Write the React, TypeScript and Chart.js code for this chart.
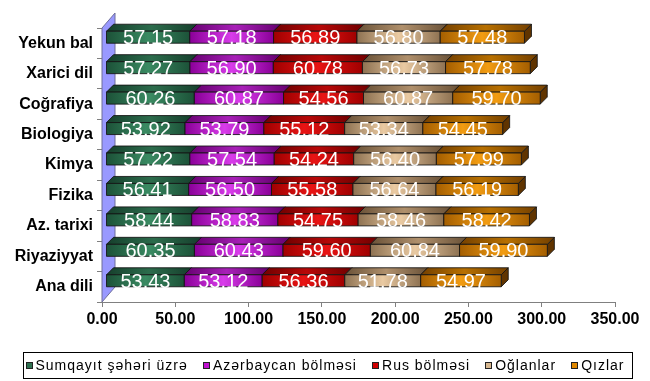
import React, { useEffect, useRef } from "react";
import { Chart, registerables } from "chart.js";

Chart.register(...registerables);

const categories = ["Yekun bal", "Xarici dil", "Coğrafiya", "Biologiya", "Kimya", "Fizika", "Az. tarixi", "Riyaziyyat", "Ana dili"];
const seriesNames = ["Sumqayıt şəhəri üzrə", "Azərbaycan bölməsi", "Rus bölməsi", "Oğlanlar", "Qızlar"];
const sumqayit = [57.15, 57.27, 60.26, 53.92, 57.22, 56.41, 58.44, 60.35, 53.43];
const azerbaycan = [57.18, 56.9, 60.87, 53.79, 57.54, 56.5, 58.83, 60.43, 53.12];
const rus = [56.89, 60.78, 54.56, 55.12, 54.24, 55.58, 54.75, 59.6, 56.36];
const oglanlar = [56.8, 56.73, 60.87, 53.34, 56.4, 56.64, 58.46, 60.84, 51.78];
const qizlar = [57.48, 57.78, 59.7, 54.45, 57.99, 56.19, 58.42, 59.9, 54.97];
const xTicks = [0, 50, 100, 150, 200, 250, 300, 350];

const FONT = "'Liberation Sans', Arial, sans-serif";

const palette = [
  { base: "#2E7050", dark: "#1C5238", light: "#3A8A62", topDark: "#163F2C", topLight: "#2C6C4C", side: "#123524" },
  { base: "#C010D0", dark: "#8A0098", light: "#D83CEA", topDark: "#660070", topLight: "#A820B8", side: "#55005E" },
  { base: "#D00000", dark: "#A00000", light: "#E81414", topDark: "#700000", topLight: "#B80808", side: "#600000" },
  { base: "#D8B890", dark: "#8E7252", light: "#EACAA2", topDark: "#6A5238", topLight: "#B0906C", side: "#5A4430" },
  { base: "#E08800", dark: "#A45E00", light: "#F29C12", topDark: "#744000", topLight: "#B87000", side: "#603400" },
];

const allSeries = [sumqayit, azerbaycan, rus, oglanlar, qizlar];

const bars3d = {
  id: "bars3d",
  beforeDatasetsDraw(chart: any) {
    const ctx = chart.ctx;
    const area = chart.chartArea;
    const wx = 13, wy = 15;
    ctx.save();
    ctx.beginPath();
    ctx.moveTo(area.left, area.bottom);
    ctx.lineTo(area.left + wx, area.bottom - wy);
    ctx.lineTo(area.left + wx, area.top - wy);
    ctx.lineTo(area.left, area.top);
    ctx.closePath();
    ctx.fillStyle = "#9999FF";
    ctx.fill();
    ctx.strokeStyle = "#6E6E9A";
    ctx.lineWidth = 1;
    ctx.stroke();

    const ox = 4, fh = 12, dx = 7, dy = 7;
    const n = chart.data.labels.length;
    for (let i = 0; i < n; i++) {
      const labels: any[] = [];
      chart.data.datasets.forEach((ds: any, d: number) => {
        const meta = chart.getDatasetMeta(d);
        const el = meta.data[i];
        if (!el) return;
        const p = el.getProps(["x", "base", "y"], true);
        const l = p.base + ox, r = p.x + ox;
        const b = p.y, t = b - fh;
        const c = palette[d];
        ctx.lineWidth = 1;
        ctx.strokeStyle = "rgba(20,20,20,0.85)";
        ctx.lineJoin = "round";
        ctx.beginPath();
        ctx.moveTo(r, t);
        ctx.lineTo(r + dx, t - dy);
        ctx.lineTo(r + dx, b - dy);
        ctx.lineTo(r, b);
        ctx.closePath();
        ctx.fillStyle = c.side;
        ctx.fill();
        ctx.stroke();
        const tg = ctx.createLinearGradient(l, 0, r + dx, 0);
        tg.addColorStop(0, c.topDark);
        tg.addColorStop(0.5, c.topLight);
        tg.addColorStop(1, c.topDark);
        ctx.beginPath();
        ctx.moveTo(l, t);
        ctx.lineTo(r, t);
        ctx.lineTo(r + dx, t - dy);
        ctx.lineTo(l + dx, t - dy);
        ctx.closePath();
        ctx.fillStyle = tg;
        ctx.fill();
        ctx.stroke();
        const fg = ctx.createLinearGradient(l, 0, r, 0);
        fg.addColorStop(0, c.dark);
        fg.addColorStop(0.5, c.light);
        fg.addColorStop(1, c.dark);
        ctx.fillStyle = fg;
        ctx.fillRect(l, t, r - l, fh);
        ctx.strokeRect(l, t, r - l, fh);
        labels.push({ x: (l + r) / 2, y: b + 1, v: ds.data[i] });
      });
      ctx.fillStyle = "#FFFFFF";
      ctx.font = `20px ${FONT}`;
      ctx.textAlign = "center";
      ctx.textBaseline = "alphabetic";
      labels.forEach((lb) => ctx.fillText(Number(lb.v).toFixed(2), lb.x, lb.y));
    }
    ctx.restore();
    return false;
  },
};

// custom legend drawn from the dataset labels
const boxedLegend = {
  id: "boxedLegend",
  afterDraw(chart: any) {
    const ctx = chart.ctx;
    const left = 23.5, right = 632.5, top = 352.5, bottom = 378.5;
    const cy = (top + bottom) / 2;
    ctx.save();
    ctx.strokeStyle = "#000";
    ctx.lineWidth = 1;
    ctx.strokeRect(left, top, right - left, bottom - top);
    ctx.font = `14px ${FONT}`;
    (ctx as any).letterSpacing = "1px";
    const sq = 7, gapText = 3;
    const items = chart.data.datasets.map((ds: any, d: number) => {
      const w = ctx.measureText(ds.label).width;
      return { label: ds.label, color: palette[d].base, w: sq + gapText + w };
    });
    const inner = right - left - 10;
    const total = items.reduce((a: number, it: any) => a + it.w, 0);
    const gap = (inner - total) / (items.length - 1);
    let x = left + 2;
    ctx.textBaseline = "middle";
    ctx.textAlign = "left";
    items.forEach((it: any) => {
      const sx = Math.round(x), sy = Math.round(cy - 3.5);
      ctx.fillStyle = it.color;
      ctx.fillRect(sx, sy, sq, sq);
      ctx.strokeStyle = "#222";
      ctx.strokeRect(sx + 0.5, sy + 0.5, sq - 1, sq - 1);
      ctx.fillStyle = "#000";
      ctx.fillText(it.label, x + sq + gapText, cy + 0.5);
      x += it.w + gap;
    });
    ctx.restore();
  },
};

export default function App() {
  const ref = useRef<HTMLCanvasElement | null>(null);
  useEffect(() => {
    if (!ref.current) return;
    const chart = new Chart(ref.current, {
      type: "bar",
      data: {
        labels: categories,
        datasets: allSeries.map((s, d) => ({
          label: seriesNames[d],
          data: s,
          backgroundColor: palette[d].base,
          borderColor: "#222",
          borderWidth: 1,
        })),
      },
      options: {
        indexAxis: "y",
        responsive: false,
        animation: false,
        layout: { padding: { top: 28, right: 35, left: 0, bottom: 31 } },
        plugins: {
          tooltip: { enabled: false },
          legend: { display: false },
        },
        scales: {
          x: {
            stacked: true,
            min: 0,
            max: 350,
            afterBuildTicks: (s: any) => {
              s.ticks = xTicks.map((v) => ({ value: v }));
            },
            afterFit: (s: any) => {
              s.height = 48;
            },
            grid: { drawOnChartArea: false, drawTicks: true, tickLength: 5, color: "#808080" },
            border: { display: true, color: "#808080" },
            ticks: {
              color: "#000",
              padding: 3,
              font: { family: FONT, size: 16, weight: "bold" },
              maxRotation: 0,
              callback: (v: any) => Number(v).toFixed(2),
            },
          },
          y: {
            stacked: true,
            afterFit: (s: any) => {
              s.width = 102;
            },
            grid: { drawOnChartArea: false, drawTicks: true, tickLength: 5, color: "#808080", offset: true },
            border: { display: false },
            ticks: {
              color: "#000",
              padding: 4,
              font: { family: FONT, size: 16, weight: "bold" },
            },
          },
        },
      },
      plugins: [bars3d, boxedLegend],
    } as any);
    return () => chart.destroy();
  }, []);
  return (
    <div style={{ position: "fixed", left: 0, top: 0, width: 650, height: 381, background: "#fff" }}>
      <canvas ref={ref} width={650} height={381} style={{ display: "block" }} />
    </div>
  );
}
